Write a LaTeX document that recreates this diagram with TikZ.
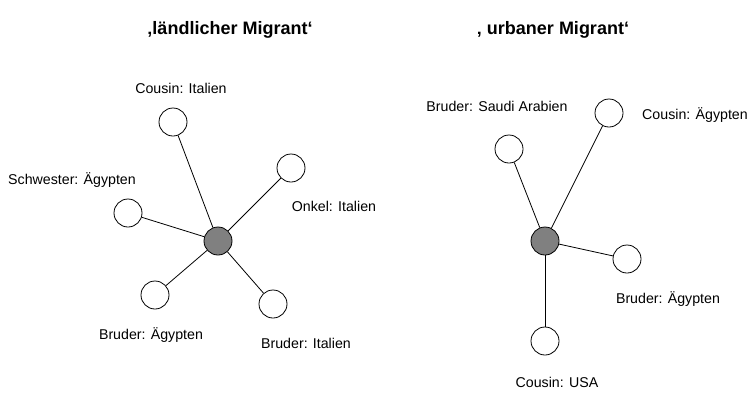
\documentclass[tikz,border=0pt]{standalone}
\usepackage{fontspec}
\setmainfont{Liberation Sans}
\begin{document}
\begin{tikzpicture}[x=1pt,y=-1pt,
  ego/.style={circle,draw=black,fill=black!50,minimum size=28pt,inner sep=0pt,line width=0.8pt},
  alter/.style={circle,draw=black,fill=white,minimum size=28pt,inner sep=0pt,line width=0.8pt},
  lbl/.style={anchor=base,inner sep=0pt,font=\fontsize{14.2}{16}\selectfont},
  titel/.style={anchor=base,inner sep=0pt,font=\bfseries\fontsize{18}{22}\selectfont},
  kante/.style={draw=black,line width=0.8pt}]
\useasboundingbox (0,0) rectangle (748,392);

% titles
\node[titel] (t1) at (230,34) {‚ländlicher Migrant‘};
\node[titel] (t2) at (553,34) {‚ urbaner Migrant‘};

% left network
\node[ego]   (L0) at (218,241) {};
\node[alter] (L1) at (173,122) {};
\node[alter] (L2) at (291,168) {};
\node[alter] (L3) at (128,213) {};
\node[alter] (L4) at (155,295) {};
\node[alter] (L5) at (273,304) {};

\node[lbl] (lL1) at (181,93)  {Cousin: Italien};
\node[lbl] (lL2) at (334,211) {Onkel: Italien};
\node[lbl] (lL3) at (72,184)  {Schwester: Ägypten};
\node[lbl] (lL4) at (151,339) {Bruder: Ägypten};
\node[lbl] (lL5) at (306,348) {Bruder: Italien};

\foreach \n in {L1,L2,L3,L4,L5}
  \draw[kante] (L0) -- (\n);

% right network
\node[ego]   (R0) at (545,241) {};
\node[alter] (R1) at (509,149) {};
\node[alter] (R2) at (609,113) {};
\node[alter] (R3) at (627,259) {};
\node[alter] (R4) at (545,341) {};

\node[lbl] (lR1) at (497,111) {Bruder: Saudi Arabien};
\node[lbl] (lR2) at (695,119) {Cousin: Ägypten};
\node[lbl] (lR3) at (668,303) {Bruder: Ägypten};
\node[lbl] (lR4) at (557,387.5) {Cousin: USA};

\foreach \n in {R1,R2,R3,R4}
  \draw[kante] (R0) -- (\n);

\end{tikzpicture}
\end{document}
